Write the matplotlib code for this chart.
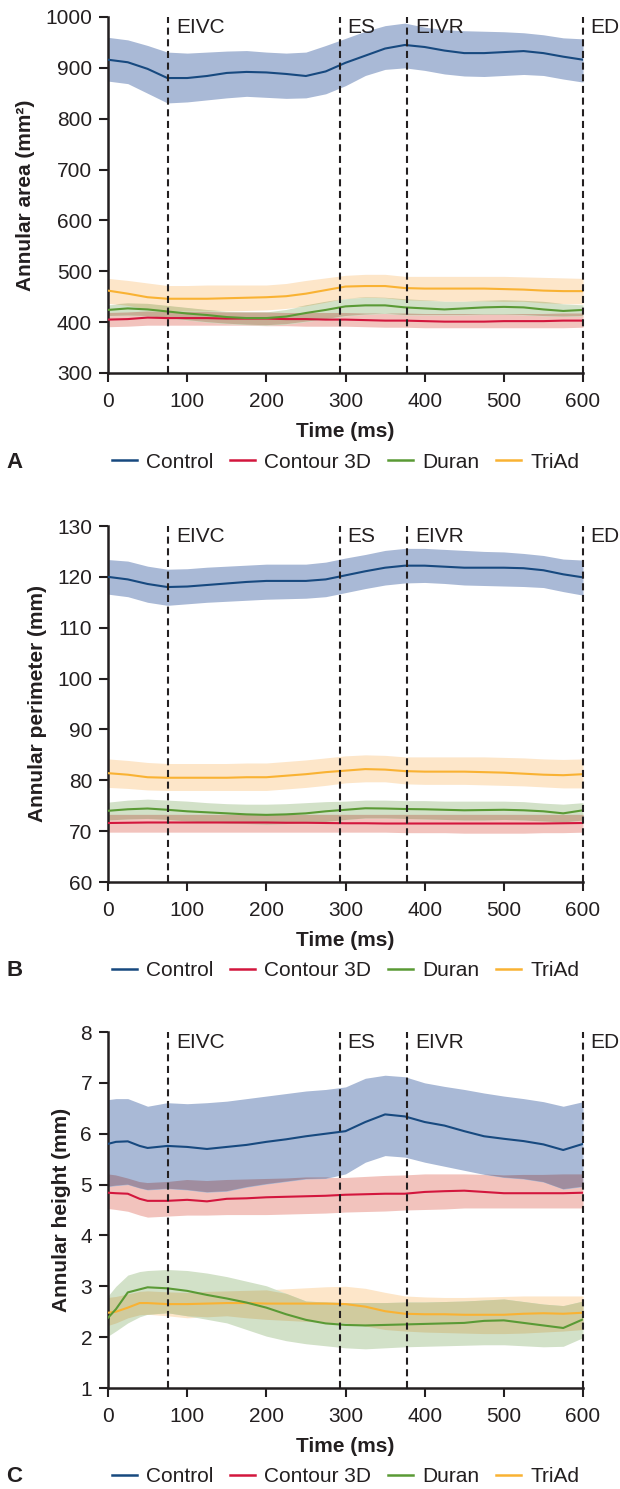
import matplotlib
matplotlib.use("Agg")
import matplotlib.pyplot as plt
from matplotlib.lines import Line2D
from matplotlib.colors import to_rgb
import numpy as np

plt.rcParams['font.family'] = ['Liberation Sans', 'DejaVu Sans']

# ---------------- data ----------------
series_names = ["Control", "Contour 3D", "Duran", "TriAd"]
events = [76, 293, 378, 600]
event_labels = ["EIVC", "ES", "EIVR", "ED"]

T = [0, 25, 50, 75, 100, 125, 150, 175, 200, 225, 250, 275, 300,
     325, 350, 375, 400, 425, 450, 475, 500, 525, 550, 575, 600]

# Panel A: annular area (mm2)
a_ctrl = [916, 911, 898, 880, 880, 884, 890, 892, 891, 888, 884, 893, 910,
          924, 938, 945, 941, 934, 929, 929, 931, 933, 929, 922, 916]
a_ctrl_hi = [960, 955, 944, 931, 929, 931, 933, 934, 931, 929, 931, 944, 958,
             972, 983, 988, 980, 975, 973, 972, 971, 969, 965, 959, 957]
a_ctrl_lo = [874, 869, 850, 831, 833, 837, 841, 844, 842, 840, 841, 849, 865,
             885, 897, 900, 895, 888, 884, 883, 885, 887, 885, 878, 872]
a_c3d = [405, 406, 409, 408, 408, 408, 407, 407, 407, 406, 406, 405, 405,
         404, 403, 403, 402, 401, 401, 401, 402, 402, 402, 403, 403]
a_c3d_hi = [418, 419, 421, 420, 420, 420, 419, 419, 419, 418, 418, 418, 418,
            417, 417, 417, 416, 416, 416, 416, 416, 416, 416, 417, 417]
a_c3d_lo = [391, 392, 394, 394, 394, 394, 394, 394, 393, 393, 392, 392, 392,
            391, 390, 390, 389, 389, 389, 389, 389, 389, 389, 389, 390]
a_dur = [424, 427, 425, 421, 417, 414, 410, 408, 408, 411, 418, 424, 431,
         433, 433, 429, 427, 425, 427, 429, 430, 429, 425, 422, 424]
a_dur_hi = [434, 437, 436, 432, 428, 424, 421, 420, 420, 425, 433, 440, 446,
            449, 448, 445, 443, 441, 441, 442, 443, 442, 440, 436, 434]
a_dur_lo = [412, 413, 412, 408, 404, 400, 397, 395, 394, 396, 401, 406, 412,
            415, 417, 414, 414, 414, 414, 415, 415, 414, 412, 411, 412]
a_tri = [462, 456, 449, 446, 446, 446, 447, 448, 449, 451, 456, 463, 470,
         471, 471, 467, 466, 466, 466, 466, 465, 464, 462, 461, 461]
a_tri_hi = [486, 482, 477, 472, 472, 473, 473, 473, 473, 476, 482, 487, 492,
            494, 494, 490, 490, 490, 490, 490, 490, 489, 488, 487, 486]
a_tri_lo = [437, 432, 425, 421, 421, 421, 422, 423, 424, 427, 431, 438, 446,
            448, 447, 443, 442, 441, 441, 441, 440, 440, 437, 436, 436]

# Panel B: annular perimeter (mm)
b_ctrl = [120.0, 119.5, 118.6, 118.0, 118.1, 118.4, 118.7, 119.0, 119.2, 119.2, 119.2, 119.5, 120.3,
          121.1, 121.8, 122.2, 122.2, 122.0, 121.8, 121.8, 121.8, 121.7, 121.3, 120.5, 119.9]
b_ctrl_hi = [123.4, 123.1, 122.1, 121.5, 121.6, 121.9, 122.1, 122.3, 122.5, 122.5, 122.5, 122.9, 123.7,
             124.4, 125.2, 125.6, 125.6, 125.4, 125.2, 125.0, 124.9, 124.6, 124.2, 123.5, 123.3]
b_ctrl_lo = [116.6, 116.1, 115.0, 114.4, 114.7, 115.0, 115.2, 115.4, 115.6, 115.7, 115.8, 116.1, 116.9,
             117.7, 118.4, 118.8, 118.9, 118.7, 118.4, 118.3, 118.2, 118.1, 117.9, 117.1, 116.4]
b_c3d = [71.6, 71.65, 71.7, 71.7, 71.7, 71.7, 71.7, 71.7, 71.7, 71.65, 71.65, 71.6, 71.55,
         71.55, 71.5, 71.5, 71.5, 71.5, 71.5, 71.5, 71.5, 71.5, 71.5, 71.55, 71.6]
b_c3d_hi = [73.3, 73.3, 73.3, 73.3, 73.3, 73.3, 73.3, 73.3, 73.3, 73.3, 73.3, 73.3, 73.3,
            73.3, 73.3, 73.3, 73.3, 73.3, 73.3, 73.3, 73.3, 73.3, 73.3, 73.3, 73.3]
b_c3d_lo = [69.8, 69.8, 69.8, 69.8, 69.8, 69.8, 69.8, 69.8, 69.8, 69.8, 69.8, 69.8, 69.8,
            69.8, 69.8, 69.7, 69.7, 69.7, 69.6, 69.6, 69.6, 69.6, 69.7, 69.7, 69.8]
b_dur = [74.0, 74.3, 74.45, 74.2, 73.9, 73.7, 73.5, 73.3, 73.2, 73.3, 73.5, 73.9, 74.2,
         74.5, 74.45, 74.35, 74.3, 74.2, 74.1, 74.15, 74.2, 74.1, 73.9, 73.5, 74.1]
b_dur_hi = [75.7, 76.1, 76.3, 76.1, 75.9, 75.6, 75.4, 75.3, 75.3, 75.4, 75.6, 75.8, 75.9,
            76.1, 76.1, 76.0, 76.0, 75.9, 75.9, 75.9, 75.9, 75.8, 75.5, 75.3, 75.6]
b_dur_lo = [72.2, 72.4, 72.5, 72.3, 72.0, 71.8, 71.6, 71.5, 71.4, 71.5, 71.6, 71.9, 72.3,
            72.6, 72.6, 72.5, 72.4, 72.3, 72.2, 72.2, 72.3, 72.2, 72.0, 71.8, 72.2]
b_tri = [81.4, 81.1, 80.6, 80.5, 80.5, 80.5, 80.5, 80.6, 80.6, 80.9, 81.2, 81.6, 81.9,
         82.2, 82.1, 81.8, 81.7, 81.7, 81.7, 81.6, 81.5, 81.3, 81.1, 81.0, 81.2]
b_tri_hi = [84.2, 83.9, 83.5, 83.3, 83.3, 83.3, 83.3, 83.4, 83.4, 83.7, 84.0, 84.4, 84.8,
            85.0, 84.9, 84.6, 84.6, 84.6, 84.6, 84.6, 84.5, 84.4, 84.2, 84.1, 84.2]
b_tri_lo = [78.6, 78.4, 78.1, 78.0, 78.0, 78.0, 78.0, 78.0, 78.0, 78.3, 78.6, 79.0, 79.5,
            79.7, 79.7, 79.3, 79.2, 79.2, 79.2, 79.1, 79.0, 78.9, 78.7, 78.5, 78.5]

# Panel C: annular height (mm)
TC = [0, 10, 25, 40, 50, 75, 100, 125, 150, 175, 200, 225, 250, 275, 300,
      325, 350, 375, 400, 425, 450, 475, 500, 525, 550, 575, 600]
c_ctrl = [5.80, 5.84, 5.85, 5.76, 5.72, 5.76, 5.74, 5.70, 5.74, 5.78, 5.84, 5.89, 5.95, 6.00, 6.05,
          6.23, 6.38, 6.34, 6.23, 6.16, 6.05, 5.95, 5.90, 5.855, 5.79, 5.68, 5.80]
c_ctrl_hi = [6.67, 6.69, 6.69, 6.60, 6.54, 6.61, 6.59, 6.61, 6.64, 6.69, 6.74, 6.79, 6.84, 6.87, 6.92,
             7.09, 7.15, 7.12, 7.00, 6.93, 6.87, 6.80, 6.74, 6.69, 6.63, 6.54, 6.63]
c_ctrl_lo = [4.96, 4.98, 5.00, 4.93, 4.895, 4.92, 4.895, 4.85, 4.87, 4.95, 5.01, 5.06, 5.11, 5.12, 5.21,
             5.44, 5.57, 5.54, 5.44, 5.36, 5.28, 5.20, 5.14, 5.11, 5.05, 4.91, 4.96]
c_c3d = [4.84, 4.83, 4.82, 4.72, 4.68, 4.68, 4.70, 4.67, 4.72, 4.73, 4.75, 4.76, 4.77, 4.78, 4.80,
         4.81, 4.82, 4.82, 4.855, 4.87, 4.88, 4.855, 4.83, 4.83, 4.83, 4.83, 4.84]
c_c3d_hi = [5.20, 5.18, 5.12, 5.05, 5.03, 5.05, 5.09, 5.07, 5.09, 5.10, 5.11, 5.12, 5.14, 5.14, 5.14,
            5.16, 5.18, 5.19, 5.21, 5.21, 5.21, 5.20, 5.18, 5.19, 5.19, 5.20, 5.20]
c_c3d_lo = [4.53, 4.51, 4.475, 4.40, 4.36, 4.38, 4.40, 4.40, 4.41, 4.41, 4.41, 4.42, 4.43, 4.44, 4.46,
            4.47, 4.48, 4.50, 4.51, 4.52, 4.54, 4.54, 4.54, 4.54, 4.54, 4.54, 4.54]
c_dur = [2.38, 2.55, 2.88, 2.94, 2.98, 2.96, 2.91, 2.83, 2.76, 2.68, 2.58, 2.45, 2.34, 2.27, 2.24,
         2.23, 2.24, 2.25, 2.26, 2.27, 2.28, 2.32, 2.33, 2.28, 2.23, 2.18, 2.35]
c_dur_hi = [2.81, 3.00, 3.22, 3.29, 3.31, 3.33, 3.31, 3.26, 3.19, 3.10, 3.01, 2.86, 2.71, 2.69, 2.68,
            2.68, 2.68, 2.69, 2.69, 2.70, 2.71, 2.73, 2.75, 2.70, 2.65, 2.62, 2.71]
c_dur_lo = [2.02, 2.12, 2.28, 2.40, 2.45, 2.48, 2.42, 2.35, 2.28, 2.15, 2.02, 1.93, 1.87, 1.83, 1.79,
            1.77, 1.79, 1.81, 1.82, 1.83, 1.84, 1.85, 1.85, 1.83, 1.81, 1.82, 1.99]
c_tri = [2.48, 2.50, 2.58, 2.67, 2.67, 2.65, 2.65, 2.66, 2.67, 2.67, 2.66, 2.66, 2.66, 2.66, 2.65,
         2.60, 2.51, 2.46, 2.45, 2.45, 2.44, 2.44, 2.44, 2.46, 2.47, 2.46, 2.48]
c_tri_hi = [2.78, 2.80, 2.85, 2.90, 2.91, 2.89, 2.88, 2.90, 2.91, 2.92, 2.93, 2.95, 2.97, 2.99, 3.00,
            2.96, 2.88, 2.81, 2.79, 2.78, 2.78, 2.79, 2.80, 2.81, 2.81, 2.81, 2.81]
c_tri_lo = [2.23, 2.28, 2.38, 2.44, 2.45, 2.42, 2.38, 2.40, 2.42, 2.38, 2.35, 2.33, 2.31, 2.29, 2.28,
            2.22, 2.15, 2.12, 2.10, 2.09, 2.08, 2.07, 2.07, 2.08, 2.10, 2.12, 2.15]

# ---------------- style ----------------
line_colors = ["#17497f", "#d3163d", "#5a9a35", "#f9b233"]
band_colors = ["#a9b9d6", "#f2c3bd", "#d2e1c8", "#fde6c9"]
INK = "#231f20"


def multiply(c1, c2):
    a = np.array(to_rgb(c1))
    b = np.array(to_rgb(c2))
    return tuple(a * b)


panels = [
    dict(t=T, data=[(a_ctrl, a_ctrl_lo, a_ctrl_hi), (a_c3d, a_c3d_lo, a_c3d_hi),
                    (a_dur, a_dur_lo, a_dur_hi), (a_tri, a_tri_lo, a_tri_hi)],
         ylim=(300, 1000), yticks=range(300, 1001, 100),
         ylabel="Annular area (mm²)", letter="A", bottom=1 - 373 / 1489),
    dict(t=T, data=[(b_ctrl, b_ctrl_lo, b_ctrl_hi), (b_c3d, b_c3d_lo, b_c3d_hi),
                    (b_dur, b_dur_lo, b_dur_hi), (b_tri, b_tri_lo, b_tri_hi)],
         ylim=(60, 130), yticks=range(60, 131, 10),
         ylabel="Annular perimeter (mm)", letter="B", bottom=1 - 882 / 1489),
    dict(t=TC, data=[(c_ctrl, c_ctrl_lo, c_ctrl_hi), (c_c3d, c_c3d_lo, c_c3d_hi),
                     (c_dur, c_dur_lo, c_dur_hi), (c_tri, c_tri_lo, c_tri_hi)],
         ylim=(1, 8), yticks=range(1, 9),
         ylabel="Annular height (mm)", letter="C", bottom=1 - 1388 / 1489),
]

fig = plt.figure(figsize=(6.2, 14.89), dpi=100)
left = 108 / 620
width = (583 - 108) / 620
height = 356 / 1489

draw_order = [1, 3, 2, 0]
for p in panels:
    ax = fig.add_axes([left, p["bottom"], width, height])
    t = np.array(p["t"], dtype=float)
    for i in draw_order:
        m, lo, hi = p["data"][i]
        ax.fill_between(t, lo, hi, color=band_colors[i], linewidth=0, zorder=1)
    # overlapping bands blend multiplicatively
    for i in range(4):
        for j in range(i + 1, 4):
            lo = np.maximum(p["data"][i][1], p["data"][j][1])
            hi = np.minimum(p["data"][i][2], p["data"][j][2])
            if np.any(hi > lo):
                ax.fill_between(t, lo, hi, where=hi > lo, interpolate=True,
                                color=multiply(band_colors[i], band_colors[j]),
                                linewidth=0, zorder=1.5)
    for i in draw_order:
        m, lo, hi = p["data"][i]
        ax.plot(t, m, color=line_colors[i], lw=1.5, zorder=3)

    for ev, lab in zip(events, event_labels):
        ax.axvline(ev, color=INK, lw=1.5, dashes=(3.4, 2.2), zorder=4, clip_on=False)
        ax.annotate(lab, xy=(ev, 1), xycoords=("data", "axes fraction"),
                    xytext=(5.5, -7.5), textcoords="offset points",
                    ha="left", va="center", fontsize=15, color=INK,
                    annotation_clip=False)

    ax.set_xlim(0, 600)
    ax.set_ylim(*p["ylim"])
    ax.set_xticks(range(0, 601, 100))
    ax.set_yticks(list(p["yticks"]))
    for s in ["top", "right"]:
        ax.spines[s].set_visible(False)
    for s in ["left", "bottom"]:
        ax.spines[s].set_linewidth(1.8)
        ax.spines[s].set_color(INK)
    ax.tick_params(axis="both", direction="out", length=6.5, width=1.5,
                   colors=INK, labelsize=15)
    ax.tick_params(axis="x", pad=7.5)
    ax.tick_params(axis="y", pad=5)
    ax.set_ylabel(p["ylabel"], fontsize=15, fontweight="bold", color=INK, labelpad=7)
    ax.set_xlabel("Time (ms)", fontsize=15, fontweight="bold", color=INK)
    ax.xaxis.set_label_coords(0.5, -0.165)
    ax.xaxis.label.set_va("center")

    handles = [Line2D([], [], color=c, lw=1.8) for c in line_colors]
    ax.legend(handles, series_names, loc="center", bbox_to_anchor=(0.5, -0.25),
              ncol=4, frameon=False, fontsize=15, handlelength=1.2,
              handletextpad=0.43, columnspacing=0.82, borderaxespad=0,
              borderpad=0, labelcolor=INK)

    fig.text(6 / 620, p["bottom"] + (-0.25 * 356) / 1489, p["letter"],
             fontsize=16, fontweight="bold", color=INK, ha="left", va="center")

fig.savefig("out.png", dpi=100, facecolor="white")
